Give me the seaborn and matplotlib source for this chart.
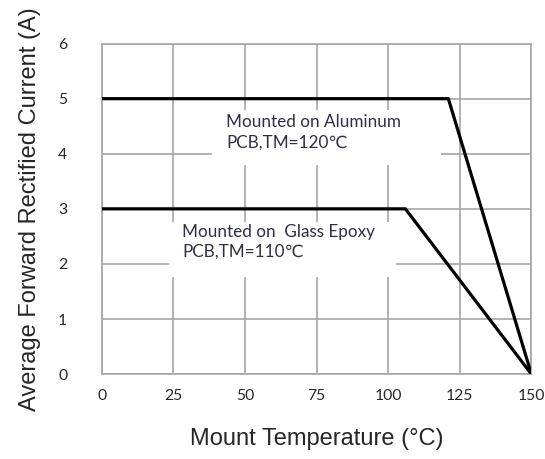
import pandas as pd
import matplotlib.pyplot as plt
import seaborn as sns
from matplotlib.patches import Rectangle

# derating curves
temp_aluminum = [0, 121, 150]
current_aluminum = [5, 5, 0]
temp_glass = [0, 106, 150]
current_glass = [3, 3, 0]

x_ticks = [0, 25, 50, 75, 100, 125, 150]
y_ticks = [0, 1, 2, 3, 4, 5, 6]

label_aluminum = "Mounted on Aluminum\nPCB,TM=120℃"
label_glass = "Mounted on  Glass Epoxy\nPCB,TM=110℃"

df = pd.concat([
    pd.DataFrame({"temp": temp_aluminum, "current": current_aluminum, "board": "aluminum"}),
    pd.DataFrame({"temp": temp_glass, "current": current_glass, "board": "glass"}),
])

sns.set_style("whitegrid", {"grid.color": "#a6a6a6", "axes.edgecolor": "#a6a6a6"})
plt.rcParams["font.family"] = ["Liberation Sans", "DejaVu Sans"]

fig = plt.figure(figsize=(5.45, 4.59), dpi=100)
ax = fig.add_axes([0.187, 0.185, 0.788, 0.72])

sns.lineplot(data=df, x="temp", y="current", units="board", estimator=None,
             color="black", linewidth=2.3, sort=False, ax=ax, zorder=3)

ax.set_xlim(0, 150)
ax.set_ylim(0, 6)
ax.set_xticks(x_ticks)
ax.set_yticks(y_ticks)
ax.grid(True, color="#a6a6a6", linewidth=1.2)
ax.set_axisbelow(True)
for s in ax.spines.values():
    s.set_color("#a6a6a6")
    s.set_linewidth(1.2)

tick_font = {"family": ["Lato", "DejaVu Sans"], "size": 11.3, "color": "#262633"}
ax.set_xticklabels([str(t) for t in x_ticks], **tick_font)
ax.set_yticklabels([str(t) for t in y_ticks], **tick_font)
ax.tick_params(axis="x", length=0, pad=11)
ax.tick_params(axis="y", length=0, pad=25)

# white boxes behind the notes, covering the grid
ax.add_patch(Rectangle((38.6, 3.79), 79.7, 1.0, facecolor="white", edgecolor="none", zorder=1.5))
ax.add_patch(Rectangle((23.3, 1.76), 79.4, 1.0, facecolor="white", edgecolor="none", zorder=1.5))

note_font = {"family": ["Lato", "DejaVu Sans"], "size": 12.3, "color": "#2e2e48"}
ax.text(43.5, 4.39, label_aluminum, va="center", ha="left", linespacing=1.3, zorder=4, **note_font)
ax.text(28.0, 2.4, label_glass, va="center", ha="left", linespacing=1.3, zorder=4, **note_font)

ax.set_xlabel("Mount Temperature (°C)", fontsize=17, labelpad=18)
ax.set_ylabel("Average Forward Rectified Current (A)", fontsize=17, labelpad=12)

fig.savefig("out.png", dpi=100)
